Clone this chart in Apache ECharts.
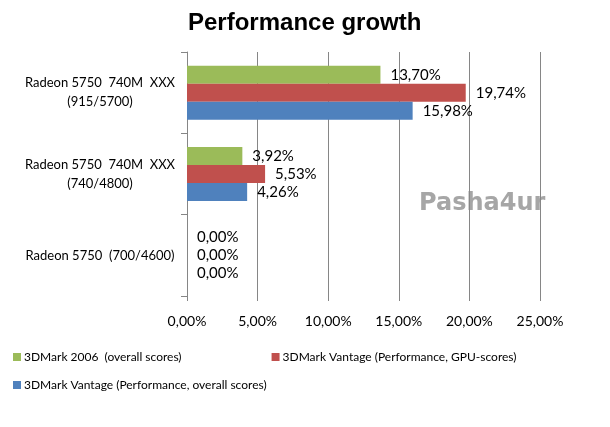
<!DOCTYPE html>
<html>
<head>
<meta charset="UTF-8">
<title>Performance growth</title>
<script src="https://cdn.jsdelivr.net/npm/echarts@6/dist/echarts.min.js"></script>
<style>
  html, body { margin: 0; padding: 0; background: #fff; }
  #chart { width: 610px; height: 427px; }
</style>
</head>
<body>
<div id="chart"></div>
<script>
// categories, bottom to top as ECharts draws them
const categories = [
  'Radeon 5750  (700/4600)',
  'Radeon 5750  740M  XXX\n(740/4800)',
  'Radeon 5750  740M  XXX\n(915/5700)'
];
const seriesNames = [
  '3DMark 2006  (overall scores)',
  '3DMark Vantage (Performance, GPU-scores)',
  '3DMark Vantage (Performance, overall scores)'
];
const green = [0, 3.92, 13.70];
const red = [0, 5.53, 19.74];
const blue = [0, 4.26, 15.98];
const colors = ['#9BBB59', '#C0504D', '#4F81BD'];

const fmt = v => v.toFixed(2).replace('.', ',') + '%';
const font = 'Lato, "Liberation Sans", sans-serif';

const chart = echarts.init(document.getElementById('chart'));

function makeSeries(name, data, color) {
  return {
    name: name,
    type: 'bar',
    data: data,
    barWidth: 18,
    barGap: '0%',
    itemStyle: { color: color },
    label: {
      show: true,
      position: 'right',
      distance: 10,
      color: '#000',
      fontSize: 15,
      fontFamily: font,
      formatter: p => fmt(p.value)
    }
  };
}

chart.setOption({
  animation: false,
  title: {
    text: 'Performance growth',
    left: 183,
    top: 6,
    textStyle: { fontSize: 24, fontWeight: 'bold', fontFamily: '"Liberation Sans", Arial, sans-serif', color: '#000' }
  },
  grid: { left: 187, right: 70, top: 52, bottom: 131, containLabel: false },
  xAxis: {
    type: 'value',
    min: 0,
    max: 25,
    interval: 5,
    axisLine: { show: false },
    axisTick: { show: true, length: 5, lineStyle: { color: '#868686' } },
    splitLine: { show: true, lineStyle: { color: '#868686', width: 1 } },
    axisLabel: { margin: 18, color: '#000', fontSize: 14, fontFamily: font, formatter: v => fmt(v) }
  },
  yAxis: {
    type: 'category',
    data: categories,
    axisLine: { show: true, lineStyle: { color: '#868686' } },
    axisTick: { show: true, length: 6, lineStyle: { color: '#868686' } },
    axisLabel: { margin: 87, align: 'center', color: '#000', fontSize: 13, lineHeight: 19, fontFamily: font }
  },
  legend: [
    {
      data: [seriesNames[0], seriesNames[1]],
      left: 8, top: 346,
      itemWidth: 8, itemHeight: 8, itemGap: 90,
      icon: 'rect',
      textStyle: { fontSize: 12, fontFamily: font, color: '#000', padding: [0, 0, 0, -2] }
    },
    {
      data: [seriesNames[2]],
      left: 8, top: 374,
      itemWidth: 8, itemHeight: 8,
      icon: 'rect',
      textStyle: { fontSize: 12, fontFamily: font, color: '#000', padding: [0, 0, 0, -2] }
    }
  ],
  graphic: [{
    type: 'text',
    left: 419,
    top: 192,
    style: { text: 'Pasha4ur', fill: '#A6A6A6', font: 'bold 24px "DejaVu Sans", sans-serif' }
  }],
  color: colors,
  series: [
    makeSeries(seriesNames[0], green, colors[0]),
    makeSeries(seriesNames[1], red, colors[1]),
    makeSeries(seriesNames[2], blue, colors[2])
  ]
});
</script>
</body>
</html>
